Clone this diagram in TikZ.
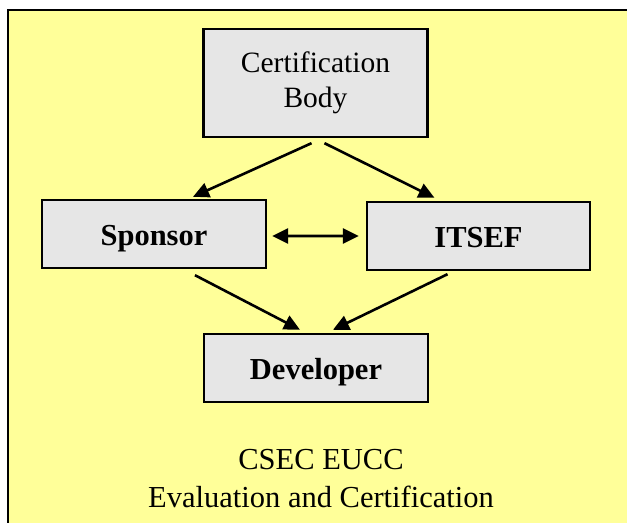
\documentclass[tikz,border=0pt]{standalone}
\usepackage{fontspec}
\setmainfont{Liberation Serif}
\usetikzlibrary{positioning,arrows.meta}

\definecolor{paleyellow}{HTML}{FFFF99}
\definecolor{boxgray}{HTML}{E6E6E6}

\begin{document}
\begin{tikzpicture}[
        x=1bp, y=-1bp,
        party/.style={draw, line width=2.4bp, fill=boxgray, align=center, minimum width=224bp, minimum height=68bp, inner sep=0pt, text height=23bp, text depth=0pt, font=\fontsize{30.5bp}{36bp}\selectfont\bfseries},
        frame/.style={draw, line width=2.5bp, fill=paleyellow},
        link/.style={-{Triangle[length=16bp,width=15bp]}, line width=2.6bp},
        twoway/.style={{Triangle[length=16bp,width=15bp]}-{Triangle[length=16bp,width=15bp]}, line width=2.6bp}
    ]
        \useasboundingbox (0,0) rectangle (627,523);
        \begin{scope}
            \clip (0,0) rectangle (627,523);
            \draw[frame] (8,10) rectangle (640,540);
        \end{scope}

        \node[party, minimum height=108bp, text height=, text depth=, font=\fontsize{29.5bp}{35bp}\selectfont] (cert) at (315.5,83) {Certification\\Body};
        \node[party] (sponsor) at (154,234) {Sponsor};
        \node[party, minimum width=223bp] (itsef) at (478.5,236) {ITSEF};
        \node[party] (developer) at (316,368) {Developer};

        \node[align=center, inner sep=0pt, font=\fontsize{30.5bp}{38bp}\selectfont] (caption) at (321,479) {CSEC EUCC\\Evaluation and Certification};

        \draw[link] ([xshift=-4bp,yshift=-5bp]cert.south) -- ([xshift=39bp,yshift=2bp]sponsor.north);
        \draw[link] ([xshift=9bp,yshift=-5bp]cert.south) -- ([xshift=-44bp,yshift=3bp]itsef.north);
        \draw[twoway] ([xshift=5bp,yshift=-2bp]sponsor.east) -- ([xshift=-7bp]itsef.west);
        \draw[link] ([xshift=41bp,yshift=-6bp]sponsor.south) -- ([xshift=-16bp,yshift=3bp]developer.north);
        \draw[link] ([xshift=-31bp,yshift=-3bp]itsef.south) -- ([xshift=17bp,yshift=3bp]developer.north);
    \end{tikzpicture}
\end{document}
